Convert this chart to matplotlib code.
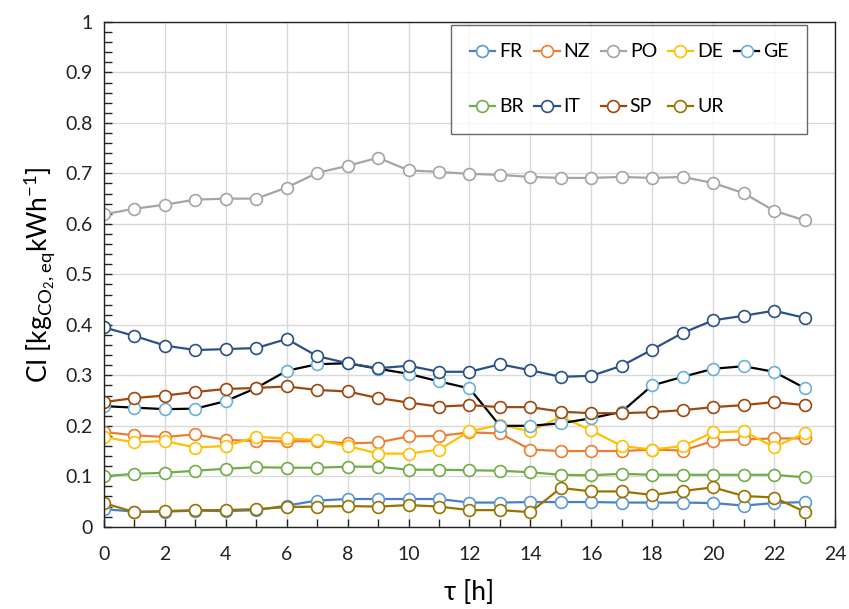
import matplotlib
matplotlib.use("Agg")
import matplotlib.pyplot as plt
from matplotlib.ticker import MultipleLocator, FuncFormatter

plt.rcParams['font.family'] = ['Lato', 'DejaVu Sans']
plt.rcParams['mathtext.fontset'] = 'custom'
plt.rcParams['mathtext.rm'] = 'Lato'

hours = list(range(24))

fr = [0.035, 0.030, 0.030, 0.032, 0.031, 0.033, 0.042, 0.052, 0.055, 0.055, 0.055, 0.055,
      0.048, 0.048, 0.049, 0.049, 0.049, 0.048, 0.048, 0.048, 0.047, 0.042, 0.047, 0.049]
nz = [0.188, 0.181, 0.178, 0.183, 0.172, 0.170, 0.169, 0.170, 0.165, 0.167, 0.179, 0.180,
      0.187, 0.185, 0.153, 0.150, 0.150, 0.150, 0.153, 0.151, 0.170, 0.173, 0.175, 0.175]
po = [0.619, 0.630, 0.638, 0.648, 0.650, 0.650, 0.672, 0.701, 0.715, 0.731, 0.706, 0.703,
      0.699, 0.697, 0.693, 0.691, 0.691, 0.693, 0.691, 0.693, 0.681, 0.661, 0.626, 0.607]
de = [0.178, 0.167, 0.170, 0.157, 0.160, 0.178, 0.175, 0.172, 0.160, 0.145, 0.145, 0.153,
      0.189, 0.202, 0.189, 0.218, 0.191, 0.160, 0.153, 0.160, 0.187, 0.189, 0.158, 0.185]
ge = [0.239, 0.236, 0.233, 0.234, 0.249, 0.275, 0.309, 0.322, 0.324, 0.313, 0.303, 0.288,
      0.274, 0.200, 0.200, 0.205, 0.215, 0.228, 0.280, 0.297, 0.313, 0.318, 0.307, 0.275]
br = [0.100, 0.105, 0.107, 0.111, 0.115, 0.118, 0.117, 0.117, 0.119, 0.119, 0.113, 0.113,
      0.112, 0.111, 0.108, 0.103, 0.102, 0.105, 0.103, 0.103, 0.103, 0.103, 0.103, 0.098]
it = [0.395, 0.378, 0.359, 0.350, 0.352, 0.354, 0.372, 0.338, 0.324, 0.314, 0.319, 0.307,
      0.307, 0.322, 0.310, 0.297, 0.299, 0.319, 0.351, 0.384, 0.409, 0.418, 0.428, 0.414]
sp = [0.247, 0.255, 0.260, 0.267, 0.273, 0.275, 0.278, 0.271, 0.268, 0.255, 0.246, 0.238,
      0.241, 0.237, 0.237, 0.228, 0.225, 0.225, 0.227, 0.231, 0.237, 0.241, 0.247, 0.241]
ur = [0.047, 0.029, 0.031, 0.033, 0.033, 0.035, 0.039, 0.040, 0.041, 0.040, 0.043, 0.040,
      0.033, 0.033, 0.029, 0.077, 0.070, 0.070, 0.063, 0.071, 0.078, 0.061, 0.058, 0.030]

# label, values, line colour, marker edge colour
series = [
    ('FR', fr, '#4a7fc4', '#5b9bd5'),
    ('NZ', nz, '#ed7d31', '#ed7d31'),
    ('PO', po, '#a5a5a5', '#a5a5a5'),
    ('DE', de, '#ffc000', '#ffc000'),
    ('GE', ge, '#000000', '#6bb0d8'),
    ('BR', br, '#70ad47', '#70ad47'),
    ('IT', it, '#2b5286', '#2b5286'),
    ('SP', sp, '#9e480e', '#9e480e'),
    ('UR', ur, '#997300', '#997300'),
]

fig = plt.figure(figsize=(8.49, 6.09), dpi=100)
ax = fig.add_axes([0.1225, 0.135, 0.861, 0.829])

handles = {}
for name, vals, lc, mc in series:
    h, = ax.plot(hours, vals, color=lc, lw=1.6, marker='o', ms=8.5,
                 mfc='white', mec=mc, mew=1.2, label=name)
    handles[name] = h

ax.set_xlim(0, 24)
ax.set_ylim(0, 1)
ax.xaxis.set_major_locator(MultipleLocator(2))
ax.xaxis.set_minor_locator(MultipleLocator(1))
ax.yaxis.set_major_locator(MultipleLocator(0.1))
ax.yaxis.set_minor_locator(MultipleLocator(0.02))
ax.yaxis.set_major_formatter(FuncFormatter(lambda v, p: f'{v:.1f}'.rstrip('0').rstrip('.') if v else '0'))
ax.grid(True, which='major', color='#d9d9d9', lw=1.0)
ax.set_axisbelow(True)
ax.tick_params(which='both', direction='in', length=6, width=1, labelsize=14,
               colors='#222222')
ax.tick_params(axis='x', pad=14)
ax.tick_params(axis='y', pad=8)
for s in ax.spines.values():
    s.set_color('#222222')
    s.set_linewidth(1.0)

ax.set_xlabel(r'τ [h]', fontsize=19, labelpad=12)
ax.set_ylabel(r'CI [kg$_{\mathregular{CO_2,eq}}$kWh$^{\mathregular{-1}}$]', fontsize=19, labelpad=6)

order = ['FR', 'BR', 'NZ', 'IT', 'PO', 'SP', 'DE', 'UR', 'GE']
leg = ax.legend([handles[k] for k in order], order, ncol=5, loc='upper right',
                bbox_to_anchor=(0.962, 0.994), fontsize=14, frameon=True,
                fancybox=False, edgecolor='#444444', handlelength=1.3,
                handletextpad=0.2, columnspacing=0.55, labelspacing=1.95,
                borderpad=0.95, borderaxespad=0)
leg.get_frame().set_linewidth(1.0)

fig.savefig('out.png', dpi=100)
